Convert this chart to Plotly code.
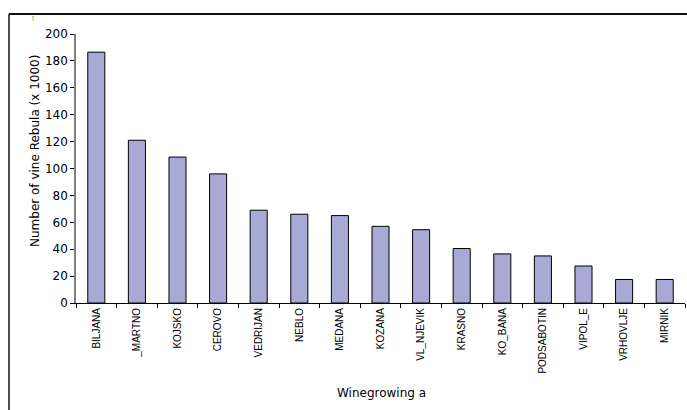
import plotly.graph_objects as go

categories = ["BILJANA", "_MARTNO", "KOJSKO", "CEROVO", "VEDRIJAN", "NEBLO", "MEDANA",
              "KOZANA", "VL_NJEVIK", "KRASNO", "KO_BANA", "PODSABOTIN", "VIPOL_E",
              "VRHOVLJE", "MIRNIK"]
values = [186.5, 121, 108.5, 96, 69, 66, 65, 57, 54.5, 40.5, 36.5, 35, 27.5, 17.5, 17.5]

W, H = 687, 410
ml, mr, mt, mb = 76, 2, 34, 107
pw = W - ml - mr
ph = H - mt - mb

fig = go.Figure(go.Bar(
    x=categories, y=values, width=0.42,
    marker=dict(color="#a9a9d5", line=dict(color="#000000", width=1)),
))

font = "Liberation Sans, Arial, sans-serif"
vfont = "DejaVu Sans, Verdana, sans-serif"
fig.update_layout(
    width=W, height=H,
    margin=dict(l=ml, r=mr, t=mt, b=mb),
    paper_bgcolor="white", plot_bgcolor="white",
    showlegend=False,
    font=dict(family=vfont, color="#000000"),
    xaxis=dict(
        type="category", tickson="boundaries", ticks="outside", ticklen=4,
        tickcolor="#000000", showline=True, linecolor="#000000", linewidth=1,
        tickangle=-90, tickfont=dict(size=10, family=font), showgrid=False,
    ),
    yaxis=dict(
        range=[0, 200], dtick=20, ticks="outside", ticklen=4, tickcolor="#000000",
        showline=True, linecolor="#808080", linewidth=1.5, showgrid=False,
        zeroline=False, tickfont=dict(size=12, family=vfont),
    ),
)

def px_x(x):
    return (x - ml) / pw

def px_y(y):
    return (H - y - mb) / ph

fig.add_annotation(text="Winegrowing a", xref="paper", yref="paper",
                   x=px_x(381), y=px_y(393), showarrow=False,
                   xanchor="center", yanchor="middle",
                   font=dict(size=12, family=vfont, color="#000000"))
fig.add_annotation(text="Number of vine Rebula (x 1000)", xref="paper", yref="paper",
                   x=px_x(35), y=px_y(151), showarrow=False, textangle=-90,
                   xanchor="center", yanchor="middle",
                   font=dict(size=12, family=vfont, color="#000000"))
fig.add_annotation(text="!", xref="paper", yref="paper",
                   x=px_x(33), y=px_y(19), showarrow=False,
                   xanchor="center", yanchor="middle",
                   font=dict(size=7, family=font, color="#555555"))

# outer frame lines (top and left)
fig.add_shape(type="line", xref="paper", yref="paper", x0=px_x(9), x1=px_x(W), y0=px_y(14), y1=px_y(14),
              line=dict(color="#111111", width=2))
fig.add_shape(type="line", xref="paper", yref="paper", x0=px_x(9), x1=px_x(9), y0=px_y(14), y1=px_y(H),
              line=dict(color="#111111", width=1.5))

fig.write_html("out.html")
